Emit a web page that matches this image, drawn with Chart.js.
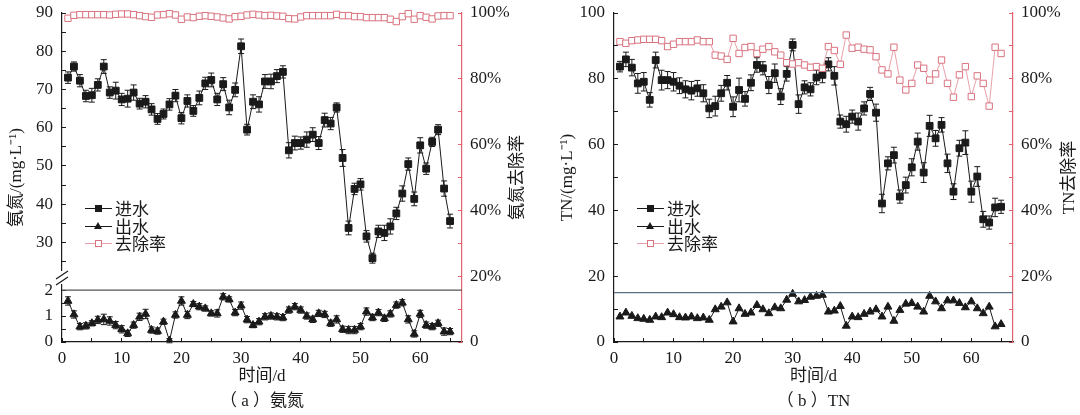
<!DOCTYPE html>
<html>
<head>
<meta charset="utf-8">
<script src="https://cdn.jsdelivr.net/npm/chart.js@4.4.1/dist/chart.umd.min.js"></script>
<style>
html, body { margin: 0; padding: 0; background: #fff; }
#wrap { position: relative; width: 1080px; height: 415px; overflow: hidden; }
.panel { position: absolute; top: 0; }
.legend { position: absolute; font-family: "Noto Sans CJK SC", sans-serif; font-size: 17px; color: #1a1a1a; }
.row { position: relative; height: 17.5px; line-height: 17.5px; padding-left: 30px; white-space: nowrap; }
.ln { position: absolute; left: 0; top: 9px; width: 27px; height: 0; border-top: 1px solid #1a1a1a; }
.ln.pink { border-color: #e8a0a8; }
.sq { position: absolute; left: 10px; top: 6px; width: 7px; height: 7px; background: #1a1a1a; }
.tri { position: absolute; left: 9px; top: 5px; width: 0; height: 0; border-left: 4.5px solid transparent; border-right: 4.5px solid transparent; border-bottom: 7px solid #1a1a1a; }
.osq { position: absolute; left: 10px; top: 6px; width: 5px; height: 5px; border: 1px solid #d9737f; background: #fff; }
</style>
</head>
<body>
<div id="wrap">
  <canvas id="chartA" class="panel" style="left:0" width="540" height="415"></canvas>
  <canvas id="chartB" class="panel" style="left:540px" width="540" height="415"></canvas>
  <div id="legendA" class="legend" style="left:85px;top:199px"></div>
  <div id="legendB" class="legend" style="left:637px;top:199px"></div>
</div>
<script>
// time axis, days
var days = [1, 2, 3, 4, 5, 6, 7, 8, 9, 10, 11, 12, 13, 14, 15, 16, 17, 18, 19, 20,
    21, 22, 23, 24, 25, 26, 27, 28, 29, 30, 31, 32, 33, 34, 35, 36, 37, 38, 39, 40,
    41, 42, 43, 44, 45, 46, 47, 48, 49, 50, 51, 52, 53, 54, 55, 56, 57, 58, 59, 60,
    61, 62, 63, 64, 65];

var seriesNames = ['进水', '出水', '去除率'];

// (a) ammonia nitrogen, mg/L
var nh4In = [73.1, 76.0, 72.3, 68.3, 68.5, 71.2, 76.0, 69.2, 69.7, 67.4,
    67.6, 69.2, 66.3, 66.8, 64.8, 62.3, 63.6, 66.1, 68.4, 62.5,
    67.0, 64.4, 67.8, 71.6, 72.5, 67.4, 71.4, 65.3, 69.9, 81.3,
    59.5, 66.8, 66.1, 72.1, 72.1, 73.5, 74.6, 54.1, 56.0, 56.0,
    56.9, 58.2, 56.0, 62.0, 61.1, 65.3, 52.1, 33.8, 44.0, 45.2,
    31.6, 25.9, 32.9, 32.5, 34.2, 37.6, 42.8, 50.5, 41.4, 55.4,
    49.3, 56.3, 59.5, 44.1, 35.6];
var nh4InErr = [1.5, 1.2, 1.6, 1.5, 1.8, 1.6, 1.8, 1.5, 2.2, 1.6,
    2.2, 2.0, 1.4, 1.6, 1.5, 1.4, 1.3, 1.5, 1.6, 1.5,
    1.6, 1.4, 1.8, 1.6, 1.8, 1.6, 1.7, 1.9, 1.8, 1.9,
    1.4, 1.8, 2.0, 1.8, 1.9, 1.7, 1.6, 2.0, 1.8, 1.6,
    2.0, 1.8, 1.7, 1.8, 1.6, 1.2, 2.2, 1.8, 1.5, 1.5,
    1.5, 1.3, 1.6, 2.0, 2.0, 1.6, 2.0, 1.6, 1.8, 2.0,
    1.5, 1.2, 1.3, 2.0, 1.8];
var nh4Out = [1.58, 1.06, 0.59, 0.62, 0.72, 0.85, 0.87, 0.81, 0.65, 0.49,
    0.33, 0.65, 0.97, 1.08, 0.46, 0.42, 0.78, 0.05, 1.04, 1.58,
    1.04, 1.46, 1.36, 1.29, 1.10, 1.10, 1.74, 1.64, 1.13, 1.40,
    0.86, 0.65, 0.78, 0.97, 1.00, 0.97, 0.94, 1.23, 1.36, 1.23,
    1.00, 0.87, 1.10, 1.06, 0.72, 0.87, 0.49, 0.46, 0.46, 0.59,
    1.17, 0.94, 1.13, 0.91, 1.08, 1.42, 1.51, 0.87, 0.31, 1.08,
    0.65, 0.59, 0.72, 0.40, 0.40];
var nh4OutErr = [0.16, 0.14, 0.12, 0.12, 0.10, 0.14, 0.20, 0.16, 0.14, 0.14,
    0.12, 0.12, 0.14, 0.18, 0.12, 0.12, 0.10, 0.08, 0.12, 0.16,
    0.14, 0.10, 0.12, 0.10, 0.10, 0.14, 0.12, 0.10, 0.12, 0.14,
    0.12, 0.10, 0.12, 0.12, 0.12, 0.12, 0.12, 0.12, 0.12, 0.12,
    0.12, 0.12, 0.12, 0.12, 0.12, 0.14, 0.12, 0.14, 0.14, 0.12,
    0.14, 0.12, 0.12, 0.12, 0.12, 0.12, 0.12, 0.14, 0.12, 0.14,
    0.12, 0.12, 0.12, 0.14, 0.12];
var nh4Rate = [98.4, 99.3, 99.5, 99.5, 99.5, 99.5, 99.5, 99.4, 99.6, 99.7,
    99.7, 99.5, 99.2, 98.9, 98.7, 99.4, 99.5, 99.8, 99.4, 98.1,
    98.8, 98.6, 99.0, 99.2, 99.0, 98.8, 98.5, 98.2, 98.9, 99.0,
    99.4, 99.6, 99.4, 99.2, 99.3, 99.1, 99.0, 98.3, 98.2, 98.8,
    99.2, 99.2, 99.2, 99.2, 99.2, 99.6, 99.2, 99.2, 98.9, 98.9,
    98.6, 98.6, 98.6, 98.6, 98.1, 97.4, 98.9, 99.8, 98.1, 99.2,
    98.7, 98.2, 99.1, 99.2, 99.2];
var nh4Limit = 2;

// (b) total nitrogen, mg/L
var tnIn = [83.7, 85.9, 83.4, 78.6, 79.1, 73.6, 85.7, 79.6, 79.6, 79.1,
    77.9, 76.8, 76.4, 77.1, 75.6, 71.0, 71.7, 75.6, 78.8, 71.5,
    76.6, 73.9, 78.8, 84.2, 83.2, 78.1, 81.7, 74.6, 81.5, 90.3,
    72.3, 77.4, 76.8, 80.4, 81.2, 84.4, 80.9, 67.0, 66.2, 68.5,
    67.0, 71.0, 75.4, 69.7, 42.1, 54.3, 56.8, 44.2, 47.7, 53.1,
    60.9, 51.5, 65.7, 61.9, 66.0, 54.3, 45.7, 58.9, 60.6, 45.7,
    50.3, 37.3, 36.3, 40.9, 41.1];
var tnInErr = [1.6, 2.2, 2.5, 3.0, 2.8, 2.2, 2.4, 3.0, 2.6, 2.8,
    2.4, 2.6, 2.8, 2.4, 2.6, 2.8, 3.0, 2.4, 2.2, 3.0,
    3.6, 2.2, 2.4, 2.2, 2.0, 2.6, 2.8, 2.4, 2.2, 1.8,
    2.8, 2.0, 2.0, 2.2, 2.4, 2.0, 2.8, 2.0, 2.4, 2.0,
    2.6, 2.0, 2.0, 2.6, 2.8, 2.0, 2.4, 2.0, 2.4, 2.6,
    2.6, 3.0, 3.2, 2.4, 2.2, 2.8, 2.4, 2.4, 3.6, 3.2,
    3.0, 2.4, 2.0, 2.8, 2.0];
var tnOut = [7.7, 8.9, 7.9, 7.2, 7.0, 6.7, 7.7, 7.5, 8.9, 8.4,
    7.5, 7.4, 7.7, 7.2, 7.4, 6.7, 9.9, 10.7, 12.0, 6.2,
    10.2, 8.5, 8.9, 11.2, 9.9, 8.7, 10.5, 10.2, 12.8, 14.6,
    12.3, 12.7, 13.7, 14.0, 14.3, 9.2, 9.5, 10.9, 4.9, 7.7,
    7.5, 8.5, 9.2, 9.9, 7.7, 10.7, 6.4, 9.7, 11.6, 11.8,
    10.7, 9.2, 14.0, 12.3, 10.2, 12.6, 12.6, 11.8, 10.5, 12.3,
    10.2, 8.7, 10.7, 4.7, 5.4];
var tnRate = [91.3, 90.8, 91.6, 91.8, 92.0, 92.0, 92.0, 91.6, 89.8, 90.5,
    91.3, 91.3, 91.3, 91.8, 91.3, 91.3, 87.2, 86.9, 85.9, 92.3,
    87.7, 89.5, 89.8, 87.7, 89.0, 89.8, 88.2, 87.2, 84.9, 84.5,
    84.9, 84.2, 83.5, 83.7, 83.2, 89.8, 88.6, 84.4, 93.3, 89.3,
    89.6, 89.0, 88.8, 86.7, 82.7, 81.5, 89.6, 79.6, 76.6, 78.6,
    84.2, 83.2, 79.6, 81.5, 85.7, 78.6, 74.4, 81.2, 83.7, 74.6,
    80.9, 78.6, 71.7, 89.6, 87.7];
var tnLimit = 15;

var xTicksMax = 67;

var serif = '"Liberation Serif", "Noto Sans CJK SC", serif';
var ink = '#1a1a1a';
var pink = '#d9737f';
var pinkLine = '#e8a0a8';
var pinkAxis = '#e06470';

function pts(xs, ys) {
    return xs.map(function (x, i) { return { x: x, y: ys[i] }; });
}

function hline(v) {
    return [{ x: 0, y: v }, { x: xTicksMax, y: v }];
}

// error bars from dataset.errors
var errorBars = {
    id: 'errorBars',
    beforeDatasetsDraw: function (chart) {
        var ctx = chart.ctx;
        chart.data.datasets.forEach(function (ds, i) {
            if (!ds.errors) return;
            var meta = chart.getDatasetMeta(i);
            var ys = chart.scales[meta.yAxisID];
            ctx.save();
            ctx.strokeStyle = ink;
            ctx.lineWidth = 1;
            meta.data.forEach(function (pt, j) {
                var v = ds.data[j].y, e = ds.errors[j];
                var y1 = ys.getPixelForValue(v + e), y2 = ys.getPixelForValue(v - e);
                ctx.beginPath();
                ctx.moveTo(pt.x, y1); ctx.lineTo(pt.x, y2);
                ctx.moveTo(pt.x - 3, y1); ctx.lineTo(pt.x + 3, y1);
                ctx.moveTo(pt.x - 3, y2); ctx.lineTo(pt.x + 3, y2);
                ctx.stroke();
            });
            ctx.restore();
        });
    }
};

// y titles, both read bottom to top
var sideTitles = {
    id: 'sideTitles',
    afterDraw: function (chart, args, opts) {
        var ctx = chart.ctx, ca = chart.chartArea;
        ctx.save();
        ctx.font = '17px ' + serif;
        ctx.fillStyle = ink;
        ctx.textAlign = 'center';
        ctx.textBaseline = 'middle';
        (opts.items || []).forEach(function (it) {
            ctx.save();
            ctx.translate(it.x, (ca.top + ca.bottom) / 2);
            ctx.rotate(-Math.PI / 2);
            ctx.fillText(it.text, 0, 0);
            ctx.restore();
        });
        ctx.restore();
    }
};

// the // break on the left axis of (a)
var axisBreak = {
    id: 'axisBreak',
    afterDraw: function (chart) {
        var s = chart.scales.yTop;
        if (!s) return;
        var ctx = chart.ctx, x = chart.chartArea.left, y = s.bottom;
        ctx.save();
        ctx.fillStyle = '#fff';
        ctx.fillRect(x - 2, y - 4, 4, 13);
        ctx.strokeStyle = ink;
        ctx.lineWidth = 1.2;
        ctx.beginPath();
        ctx.moveTo(x - 6, y + 4); ctx.lineTo(x + 6, y - 4);
        ctx.moveTo(x - 6, y + 10); ctx.lineTo(x + 6, y + 2);
        ctx.stroke();
        ctx.restore();
    }
};

function tickFont() {
    return { family: serif, size: 17 };
}

// fixed box size, no extra room for half labels at the ends
function fixWidth(w) {
    return function (s) {
        s.width = w;
        s.paddingTop = 0;
        s.paddingBottom = 0;
    };
}

function xScale() {
    return {
        type: 'linear',
        min: 0,
        max: xTicksMax,
        border: { color: ink, width: 1.2 },
        grid: { drawOnChartArea: false, color: ink, tickLength: -4 },
        ticks: {
            stepSize: 5,
            includeBounds: false,
            autoSkip: false,
            padding: 10,
            maxRotation: 0,
            color: ink,
            font: tickFont(),
            callback: function (v) { return v % 10 === 0 ? v : ''; }
        },
        title: { display: true, color: ink, font: { family: serif, size: 17, lineHeight: 1.47 }, padding: { top: 0, bottom: 1 } },
        afterFit: function (s) { s.height = 73; }
    };
}

function rateScale(w) {
    return {
        position: 'right',
        min: 0,
        max: 100,
        border: { color: pinkAxis, width: 1.2 },
        grid: { drawOnChartArea: false, color: pinkAxis, tickLength: -4 },
        ticks: {
            stepSize: 10,
            includeBounds: false,
            autoSkip: false,
            padding: 12,
            color: ink,
            font: tickFont(),
            callback: function (v) { return v === 0 ? '0' : (v % 20 === 0 ? v + '%' : ''); }
        },
        afterFit: fixWidth(w)
    };
}

function leftTicks(step, every) {
    return {
        stepSize: step,
        includeBounds: false,
        autoSkip: false,
        padding: 13,
        color: ink,
        font: tickFont(),
        callback: function (v) { return Math.abs(v / every - Math.round(v / every)) < 1e-6 ? v : ''; }
    };
}

function inflowSet(xs, ys, errs, axis) {
    return {
        label: seriesNames[0], data: pts(xs, ys), yAxisID: axis, errors: errs,
        borderColor: ink, borderWidth: 1, backgroundColor: ink,
        pointStyle: 'rect', pointRadius: 4.8, pointBackgroundColor: ink, pointBorderColor: ink, pointBorderWidth: 1
    };
}

function outflowSet(xs, ys, errs, axis) {
    var ds = {
        label: seriesNames[1], data: pts(xs, ys), yAxisID: axis,
        borderColor: ink, borderWidth: 1, backgroundColor: ink,
        pointStyle: 'triangle', pointRadius: 4.6, pointBackgroundColor: ink, pointBorderColor: ink, pointBorderWidth: 1
    };
    if (errs) ds.errors = errs;
    return ds;
}

function rateSet(xs, ys) {
    return {
        label: seriesNames[2], data: pts(xs, ys), yAxisID: 'yR', clip: false,
        borderColor: pinkLine, borderWidth: 1, backgroundColor: '#fff',
        pointStyle: 'rect', pointRadius: 4.5, pointBackgroundColor: '#fff', pointBorderColor: pink, pointBorderWidth: 1
    };
}

function limitSet(v, axis, color) {
    return {
        label: 'limit', data: hline(v), yAxisID: axis,
        borderColor: color, borderWidth: 1.2, pointRadius: 0
    };
}

var commonPlugins = {
    legend: { display: false },
    tooltip: { enabled: false }
};

// (a) 氨氮, left axis broken into two stacked scales
var xa = xScale();
xa.title.text = ['时间/d', '（ a ）氨氮'];
var chartA = new Chart(document.getElementById('chartA').getContext('2d'), {
    type: 'line',
    data: {
        datasets: [
            rateSet(days, nh4Rate),
            limitSet(nh4Limit, 'yBottom', '#555'),
            outflowSet(days, nh4Out, nh4OutErr, 'yBottom'),
            inflowSet(days, nh4In, nh4InErr, 'yTop')
        ]
    },
    options: {
        responsive: false,
        animation: false,
        layout: { padding: { top: 13, left: 0, right: 0, bottom: 0 } },
        scales: {
            x: xa,
            yBottom: {
                position: 'left', stack: 'a', stackWeight: 67,
                min: 0, max: 2.58,
                border: { color: ink, width: 1.2 },
                grid: { drawOnChartArea: false, color: ink, tickLength: -4 },
                ticks: leftTicks(0.5, 1),
                afterBuildTicks: function (s) { s.ticks = s.ticks.filter(function (t) { return t.value <= 2; }); },
                afterFit: fixWidth(62)
            },
            yTop: {
                position: 'left', stack: 'a', stackWeight: 262,
                min: 21.5, max: 90,
                border: { color: ink, width: 1.2 },
                grid: { drawOnChartArea: false, color: ink, tickLength: -4 },
                ticks: leftTicks(5, 10),
                afterFit: fixWidth(62)
            },
            yR: rateScale(78)
        },
        plugins: Object.assign({
            sideTitles: { items: [{ x: 17, text: '氨氮/(mg·L⁻¹)' }, { x: 518, text: '氨氮去除率' }] }
        }, commonPlugins)
    },
    plugins: [errorBars, sideTitles, axisBreak]
});

// (b) TN
var xb = xScale();
xb.title.text = ['时间/d', '（ b ）TN'];
var chartB = new Chart(document.getElementById('chartB').getContext('2d'), {
    type: 'line',
    data: {
        datasets: [
            rateSet(days, tnRate),
            limitSet(tnLimit, 'y', '#5d7185'),
            outflowSet(days, tnOut, null, 'y'),
            inflowSet(days, tnIn, tnInErr, 'y')
        ]
    },
    options: {
        responsive: false,
        animation: false,
        layout: { padding: { top: 13, left: 0, right: 0, bottom: 0 } },
        scales: {
            x: xb,
            y: {
                position: 'left',
                min: 0, max: 100,
                border: { color: ink, width: 1.2 },
                grid: { drawOnChartArea: false, color: ink, tickLength: -4 },
                ticks: leftTicks(10, 20),
                afterFit: fixWidth(74)
            },
            yR: rateScale(67)
        },
        plugins: Object.assign({
            sideTitles: { items: [{ x: 28, text: 'TN/(mg·L⁻¹)' }, { x: 530, text: 'TN去除率' }] }
        }, commonPlugins)
    },
    plugins: [errorBars, sideTitles]
});

// legends
function buildLegend(id) {
    var marks = ['<i class="ln"></i><i class="sq"></i>', '<i class="ln"></i><i class="tri"></i>', '<i class="ln pink"></i><i class="osq"></i>'];
    document.getElementById(id).innerHTML = seriesNames.map(function (n, i) {
        return '<div class="row">' + marks[i] + n + '</div>';
    }).join('');
}
buildLegend('legendA');
buildLegend('legendB');
</script>
</body>
</html>
